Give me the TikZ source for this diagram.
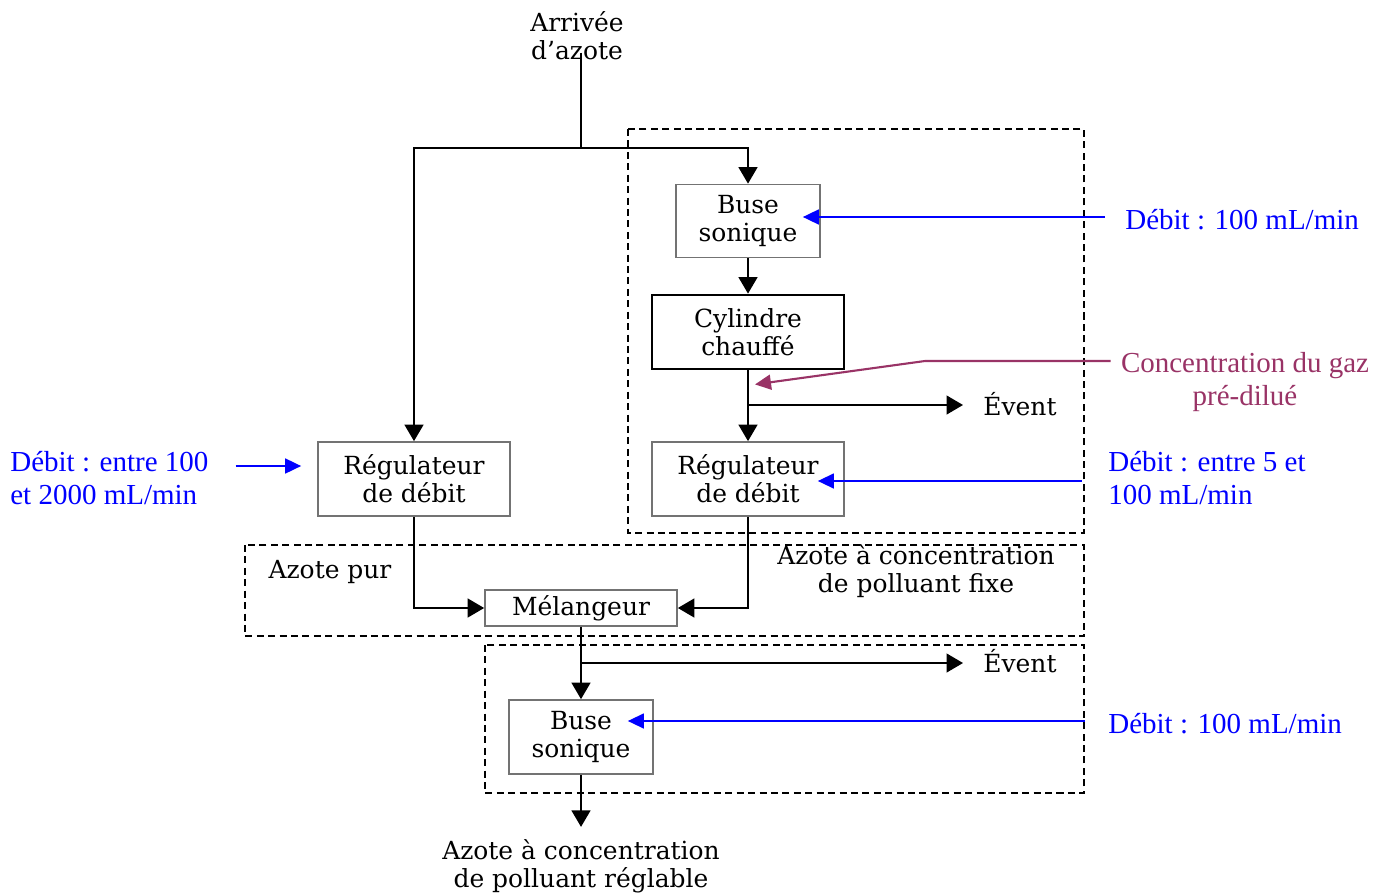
\documentclass[tikz,border=0pt]{standalone}
\usepackage{fontspec}
\setmainfont{Liberation Serif}
\newfontfamily\boxfont{DejaVu Serif}
\usepackage{xcolor}
\usepackage{tikz}
\usetikzlibrary{arrows.meta, positioning, calc}

\definecolor{debitblue}{RGB}{0,0,255}
\definecolor{gazmagenta}{RGB}{153,51,102}

\tikzset{
  box/.style={draw=black!55, line width=1pt, fill=white, align=center, inner sep=0pt,
    font=\boxfont\fontsize{14.2}{16}\selectfont},
  label/.style={align=center, inner sep=0pt, font=\boxfont\fontsize{14.2}{16}\selectfont},
  note/.style={align=left, inner sep=0pt, text=debitblue, font=\fontsize{16.5}{19}\selectfont},
  flow/.style={line width=0.8pt, -{Triangle[length=0.33cm,width=0.38cm]}},
  feed/.style={debitblue, line width=1pt, -{Triangle[length=0.32cm,width=0.3cm]}},
  zone/.style={dashed, line width=0.8pt, dash pattern=on 4pt off 2.5pt}
}

\begin{document}
\begin{tikzpicture}[x=0.02cm, y=-0.02cm]
\useasboundingbox (0,0) rectangle (1388,892);

\draw[zone] (628,129) rectangle (1084,533);
\draw[zone] (245,545) rectangle (1084,636);
\draw[zone] (485,645) rectangle (1084,793);

\node[label] (arrivee) at (577,36) {Arrivée\\d’azote};
\node[box, minimum width=2.88cm, minimum height=1.46cm] (buse1) at (748,221) {Buse\\sonique};
\node[box, draw=black, line width=1.6pt, minimum width=3.84cm, minimum height=1.48cm] (cyl) at (748,332) {Cylindre\\chauffé};
\node[box, minimum width=3.84cm, minimum height=1.48cm] (reg2) at (748,479) {Régulateur\\de débit};
\node[box, minimum width=3.84cm, minimum height=1.48cm] (reg1) at (414,479) {Régulateur\\de débit};
\node[box, minimum width=3.84cm, minimum height=0.72cm] (mel) at (581,608) {Mélangeur};
\node[box, minimum width=2.88cm, minimum height=1.48cm] (buse2) at (581,737) {Buse\\sonique};
\node[label] (sortie) at (581,866) {Azote à concentration\\de polluant réglable};

\node[label, anchor=west] (event1) at (983,404) {Évent};
\node[label, anchor=west] (event2) at (983,661) {Évent};
\node[label] (pur) at (330,572) {Azote pur};
\node[label] (fixe) at (916,571) {Azote à concentration\\de polluant fixe};

\node[note, anchor=west] (deb1) at (1125,220) {Débit : 100 mL/min};
\node[note, anchor=west] (debL) at (10,478) {Débit : entre 100\\et 2000 mL/min};
\node[note, anchor=west] (debR) at (1108,478) {Débit : entre 5 et\\100 mL/min};
\node[note, anchor=west] (deb2) at (1108,724) {Débit : 100 mL/min};
\node[note, align=center, text=gazmagenta] (conc) at (1245,382) {Concentration du gaz\\pré-dilué};

\coordinate (split) at (581,148);
\coordinate (vent1) at (748,405);
\coordinate (vent2) at (581,663);
\coordinate (kink) at (925,361);

\draw[line width=0.8pt] (split |- arrivee.south) ++(0,-8) -- (split);
\draw[flow] (split) -| (buse1.north);
\draw[flow] (split) -| (reg1.north);
\draw[flow] (buse1) -- (cyl);
\draw[flow] (cyl) -- (reg2);
\draw[flow] (vent1) -- ($(vent1 -| event1.west)+(-20,0)$);
\draw[flow] (reg1.south) |- (mel.west);
\draw[flow] (reg2.south) |- (mel.east);
\draw[flow] (mel) -- (buse2);
\draw[flow] (vent2) -- ($(vent2 -| event2.west)+(-20,0)$);
\draw[flow] (buse2) -- ($(sortie.north)+(0,-12)$);

\draw[feed] ($(deb1.west)+(-20,-3)$) -- ($(buse1.east)+(-18,-4)$);
\draw[feed] ($(debL.east)+(27,-12)$) -- ($(reg1.west)+(-16,-13)$);
\draw[feed, line width=0.8pt] ($(reg2.east)+(237,2)$) -- ($(reg2.east)+(-27,2)$);
\draw[feed, line width=0.8pt] ($(buse2.east)+(431,-16)$) -- ($(buse2.east)+(-26,-16)$);
\draw[gazmagenta, line width=1.2pt, -{Triangle[length=0.32cm,width=0.3cm]}]
  ($(conc.west |- kink)+(-10,0)$) -- (kink) -- ($(cyl.south)+(7,14)$);
\end{tikzpicture}
\end{document}
